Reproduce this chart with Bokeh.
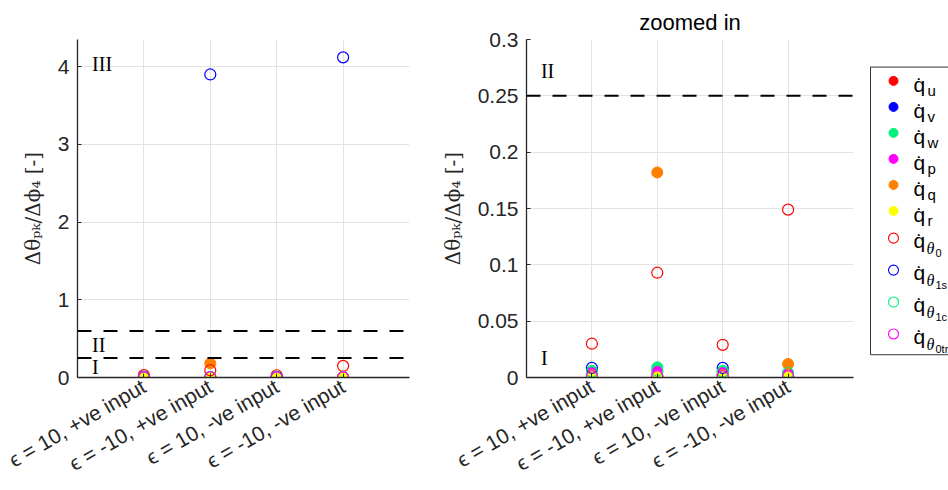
import math
from bokeh.plotting import figure
from bokeh.models import FixedTicker, Span, Label, Range1d
from bokeh.layouts import row
from bokeh.embed import file_html
from bokeh.resources import INLINE
from bokeh.core.properties import value

# ---------------- data ----------------
cases = ["ϵ = 10, +ve input", "ϵ = -10, +ve input", "ϵ = 10, -ve input", "ϵ = -10, -ve input"]

q_u = [0.002, 0.001, 0.002, 0.001]
q_v = [0.002, 0.001, 0.002, 0.001]
q_w = [0.006, 0.009, 0.006, 0.004]
q_p = [0.004, 0.005, 0.004, 0.003]
q_q = [0.002, 0.182, 0.002, 0.012]
q_r = [0.001, 0.001, 0.001, 0.001]
q_th0 = [0.030, 0.093, 0.029, 0.149]
q_th1s = [0.0085, 3.90, 0.0085, 4.12]
q_th1c = [0.005, 0.006, 0.005, 0.004]
q_th0tr = [0.001, 0.001, 0.001, 0.001]

series_values = [q_u, q_v, q_w, q_p, q_q, q_r, q_th0, q_th1s, q_th1c, q_th0tr]
series_colors = ["#ff0000", "#0000ff", "#00f07d", "#ff00ff", "#ff8000", "#ffff00",
                 "#ff0000", "#0000ff", "#00f07d", "#ff00ff"]
series_filled = [True, True, True, True, True, True, False, False, False, False]
legend_sub1 = ["u", "v", "w", "p", "q", "r", "θ", "θ", "θ", "θ"]
legend_sub2 = ["", "", "", "", "", "", "0", "1s", "1c", "0tr"]

left_yticks = [0, 1, 2, 3, 4]
left_ytick_labels = ["0", "1", "2", "3", "4"]
right_yticks = [0, 0.05, 0.1, 0.15, 0.2, 0.25, 0.3]
right_ytick_labels = ["0", "0.05", "0.1", "0.15", "0.2", "0.25", "0.3"]

left_thresholds = [0.6, 0.25]
right_thresholds = [0.25]
left_regions = [("III", 4.03), ("II", 0.42), ("I", 0.13)]
right_regions = [("II", 0.272), ("I", 0.017)]

# ---------------- style ----------------
AX = "#262626"
GRID = "#e3e3e3"
SANS = "Liberation Sans"
SERIF = "Liberation Serif"
YLABEL = "Δθₚₖ/Δϕ₄ [-]"
H = 490
xs = [i + 1 for i in range(len(cases))]


def make_axes(ymax, yticks, ylabels, width, mbl, mbr, title=None):
    p = figure(width=width, height=H, x_range=Range1d(0, 5), y_range=Range1d(0, ymax),
               output_backend="svg", toolbar_location=None,
               min_border_left=mbl, min_border_right=mbr, min_border_top=39, min_border_bottom=113)
    p.outline_line_color = None
    p.background_fill_color = "white"
    p.border_fill_color = "white"
    if title:
        p.title.text = title
        p.title.align = "center"
        p.title.text_font = SANS
        p.title.text_font_size = "22px"
        p.title.text_font_style = "normal"
        p.title.text_color = "black"
        p.title.standoff = 10
    for ax in (p.xaxis[0], p.yaxis[0]):
        ax.axis_line_color = AX
        ax.axis_line_width = 1.3
        ax.major_tick_line_color = AX
        ax.major_tick_in = 4
        ax.major_tick_out = 0
        ax.minor_tick_line_color = None
        ax.major_label_text_font = SANS
        ax.major_label_text_font_size = "21px"
        ax.major_label_text_color = AX
    p.xaxis.ticker = FixedTicker(ticks=xs)
    p.xaxis.major_label_overrides = {x: c for x, c in zip(xs, cases)}
    p.xaxis.major_label_orientation = math.pi / 6
    p.xaxis.major_label_standoff = 7
    p.yaxis.ticker = FixedTicker(ticks=yticks)
    p.yaxis.major_label_overrides = {t: l for t, l in zip(yticks, ylabels)}
    p.yaxis.major_label_standoff = 8
    p.yaxis.axis_label = YLABEL
    p.yaxis.axis_label_text_font = "DejaVu Serif"
    p.yaxis.axis_label_text_font_size = "20px"
    p.yaxis.axis_label_text_font_style = "normal"
    p.yaxis.axis_label_text_color = AX
    p.yaxis.axis_label_standoff = 10
    p.grid.grid_line_color = GRID
    p.grid.grid_line_width = 1
    return p


def add_points(p):
    for vals, col, filled in zip(series_values, series_colors, series_filled):
        if filled:
            p.scatter(x=xs, y=vals, marker="circle", size=11, fill_color=col, line_color=col)
        else:
            p.scatter(x=xs, y=vals, marker="circle", size=11, fill_color=None,
                      line_color=col, line_width=1.2)


def add_thresholds(p, ths, regions):
    for t in ths:
        p.add_layout(Span(location=t, dimension="width", line_color="black",
                          line_width=2, line_dash="14 12"))
    for txt, yv in regions:
        p.add_layout(Label(x=0.22, y=yv, text=txt, text_font=SERIF, text_font_size="20px",
                           text_baseline="middle", text_align="left", text_color="black"))


p1 = make_axes(4.35, left_yticks, left_ytick_labels, 419, 77, 10)
add_thresholds(p1, left_thresholds, left_regions)
add_points(p1)

p2 = make_axes(0.3, right_yticks, right_ytick_labels, 447, 107, 13, title="zoomed in")
add_thresholds(p2, right_thresholds, right_regions)
add_points(p2)

# ---------------- legend panel ----------------
LX0, LX1 = 866, 948
pl = figure(width=LX1 - LX0, height=H, x_range=Range1d(LX0, LX1), y_range=Range1d(H, 0),
            output_backend="svg", toolbar_location=None,
            min_border_left=0, min_border_right=0, min_border_top=0, min_border_bottom=0)
pl.axis.visible = False
pl.grid.visible = False
pl.outline_line_color = None
pl.background_fill_color = "white"
pl.border_fill_color = "white"
pl.quad(left=[870], right=[1000], top=[40], bottom=[457], fill_color="white",
        line_color="#333333", line_width=1)

ly = []
for i, s2 in enumerate(legend_sub2):
    if s2 == "":
        ly.append(60 + 37.7 * i)
    else:
        ly.append(288 + 46.3 * (i - 6))

for i, (col, filled, s1, s2) in enumerate(zip(series_colors, series_filled, legend_sub1, legend_sub2)):
    y = ly[i]
    if filled:
        pl.scatter(x=[893], y=[y], marker="circle", size=9, fill_color=col, line_color=col)
        pl.text(x=[913], y=[y + 5], text=["q̇"], text_font=value(SANS), text_font_size="21px",
                text_baseline="alphabetic", text_color="black")
        pl.text(x=[927], y=[y + 14], text=[s1], text_font=value(SANS), text_font_size="15px",
                text_baseline="alphabetic", text_color="black")
    else:
        pl.scatter(x=[893], y=[y], marker="circle", size=10, fill_color=None, line_color=col,
                   line_width=1.1)
        pl.text(x=[913], y=[y + 3], text=["q̇"], text_font=value(SANS), text_font_size="21px",
                text_baseline="alphabetic", text_color="black")
        pl.text(x=[926], y=[y + 15], text=[s1], text_font=value(SERIF), text_font_size="16px",
                text_font_style="italic", text_baseline="alphabetic", text_color="black")
        pl.text(x=[935], y=[y + 22], text=[s2], text_font=value(SANS), text_font_size="11px",
                text_baseline="alphabetic", text_color="black")

layout = row(p1, p2, pl)
open("out.html", "w").write(file_html(layout, INLINE))
